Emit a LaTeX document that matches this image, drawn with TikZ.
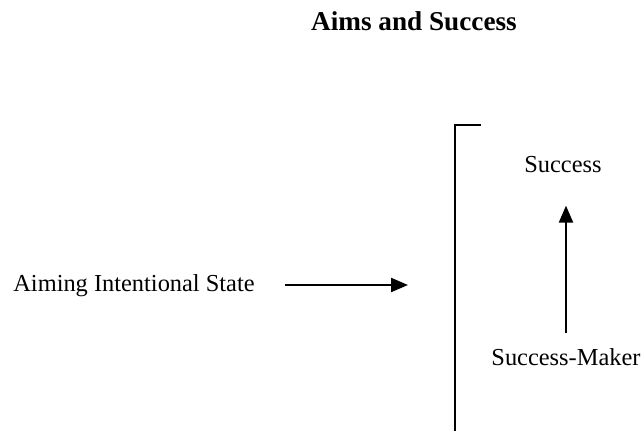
\documentclass[tikz,border=0pt]{standalone}
\usepackage{fontspec}
\setmainfont{Liberation Serif}
\usetikzlibrary{arrows.meta}
\usetikzlibrary{positioning}

\begin{document}
\begin{tikzpicture}[x=0.5pt,y=-0.5pt,
  lbl/.style={inner sep=0pt,anchor=base,font=\fontsize{12.2}{14}\selectfont},
  arr/.style={line width=1.1pt,-{Triangle[length=8.5pt,width=7pt]}}]
\useasboundingbox (0,0) rectangle (642,431);

\node[lbl,font=\fontsize{13.6}{16}\bfseries] (title) at (414,31) {Aims and Success};

\node[lbl] (aim) at (134,292) {Aiming Intentional State};
\coordinate (aimend) at (408,285);
\draw[arr] (aim.east |- aimend) ++(15pt,0) -- (aimend);

\draw[line width=1pt] (455,431) -- (455,125) -- (481,125);

\node[lbl] (success) at (563,173) {Success};
\node[lbl] (maker) at (566,366) {Success-Maker};
\draw[arr] ([yshift=8pt]maker.north) -- ([yshift=-16pt]maker.north |- success.south);
\end{tikzpicture}
\end{document}
